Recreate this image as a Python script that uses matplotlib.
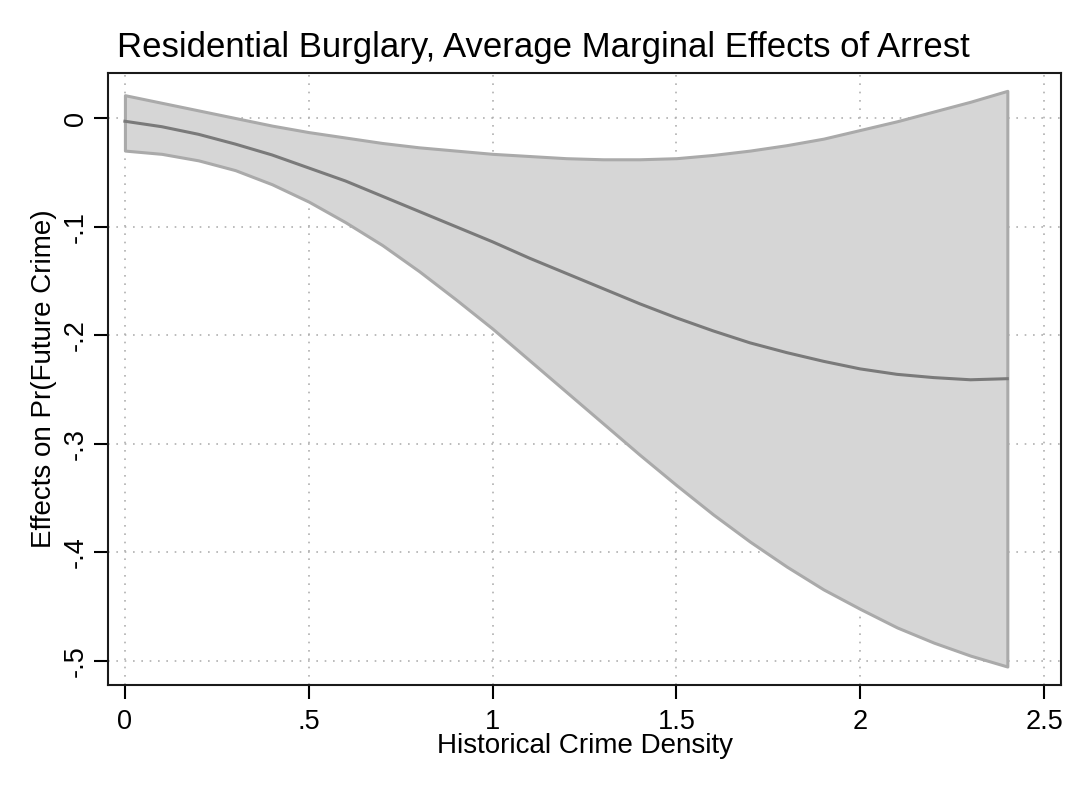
import numpy as np
import matplotlib
matplotlib.use("Agg")
import matplotlib.pyplot as plt

# values
density = [0.0, 0.1, 0.2, 0.3, 0.4, 0.5, 0.6, 0.7, 0.8, 0.9, 1.0, 1.1, 1.2,
           1.3, 1.4, 1.5, 1.6, 1.7, 1.8, 1.9, 2.0, 2.1, 2.2, 2.3, 2.4]
effect = [-0.003, -0.008, -0.015, -0.024, -0.034, -0.046, -0.058, -0.072, -0.086,
          -0.100, -0.114, -0.129, -0.143, -0.157, -0.171, -0.184, -0.196, -0.207,
          -0.216, -0.224, -0.231, -0.236, -0.239, -0.241, -0.240]
upper = [0.021, 0.014, 0.007, 0.000, -0.007, -0.013, -0.018, -0.023, -0.027,
         -0.030, -0.033, -0.035, -0.037, -0.038, -0.038, -0.037, -0.034, -0.030,
         -0.025, -0.019, -0.011, -0.003, 0.006, 0.015, 0.025]
lower = [-0.030, -0.033, -0.039, -0.048, -0.061, -0.077, -0.096, -0.117, -0.141,
         -0.167, -0.194, -0.223, -0.252, -0.281, -0.310, -0.338, -0.365, -0.390,
         -0.413, -0.434, -0.452, -0.469, -0.483, -0.495, -0.505]

xticks = [0, 0.5, 1, 1.5, 2, 2.5]
xticklabels = ["0", ".5", "1", "1.5", "2", "2.5"]
yticks = [0, -0.1, -0.2, -0.3, -0.4, -0.5]
yticklabels = ["0", "-.1", "-.2", "-.3", "-.4", "-.5"]

plt.rcParams.update({
    'font.family': ['Liberation Sans', 'DejaVu Sans'],
    'font.size': 20,
})

fig = plt.figure(figsize=(10.9, 7.93), dpi=100)
ax = fig.add_axes([0.0991, 0.1362, 0.8743, 0.7717])

ax.fill_between(density, lower, upper, facecolor='#d6d6d6', edgecolor='#aaaaaa',
                linewidth=2.2, zorder=2)
ax.plot(density, effect, color='#7a7a7a', lw=2.2, zorder=3)

ax.set_xlim(-0.046, 2.546)
ax.set_ylim(-0.522, 0.0414)
ax.set_xticks(xticks)
ax.set_xticklabels(xticklabels, fontsize=19.5)
ax.set_yticks(yticks)
ax.set_yticklabels(yticklabels, fontsize=19.5, rotation=90, va='center')

ax.grid(True, ls=(0, (1, 4)), color='#b0b0b0', lw=1.2, zorder=1)
ax.set_axisbelow(True)
ax.tick_params(direction='out', length=10, width=1.5)
ax.tick_params(axis='x', pad=7)
ax.tick_params(axis='y', pad=4)
for sp in ax.spines.values():
    sp.set_linewidth(1.5)
    sp.set_color('#1a1a1a')

ax.set_xlabel("Historical Crime Density", fontsize=20, labelpad=-1)
ax.set_ylabel("Effects on Pr(Future Crime)", fontsize=20, labelpad=4)

fig.text(117 / 1090, 1 - 48 / 793, "Residential Burglary, Average Marginal Effects of Arrest",
         fontsize=25, ha='left', va='center')

fig.savefig("out.png", dpi=100)
